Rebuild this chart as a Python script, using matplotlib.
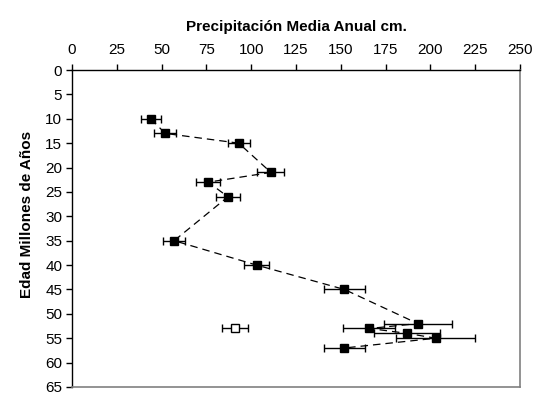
import numpy as np
import matplotlib.pyplot as plt

plt.rcParams['font.family'] = ['Liberation Sans', 'DejaVu Sans']

# precipitacion media anual (cm) vs edad (millones de anos)
precip = [44, 52, 93, 111, 76, 87, 57, 103, 152, 193, 166, 187, 203, 152]
edad = [10, 13, 15, 21, 23, 26, 35, 40, 45, 52, 53, 54, 55, 57]
error = [5.5, 6, 6.2, 7.5, 6.8, 6.8, 6.3, 7, 11.5, 19, 14.5, 18.6, 22, 11.3]

# punto aislado (cuadro abierto)
precip_abierto = [91]
edad_abierto = [53]
error_abierto = [7.4]

fig = plt.figure(figsize=(5.39, 3.97), dpi=100)
ax = fig.add_axes([72/539, 1 - 387/397, 448/539, 317/397])

ax.errorbar(precip, edad, xerr=error, fmt='none', ecolor='black',
            elinewidth=1, capsize=3, capthick=1)
ax.plot(precip, edad, color='black', linestyle=(0, (6, 4)), linewidth=0.9,
        marker='s', markersize=5.5, markerfacecolor='black', markeredgecolor='black')

ax.errorbar(precip_abierto, edad_abierto, xerr=error_abierto, fmt='s', color='black',
            markerfacecolor='white', markeredgecolor='black', markersize=5.5,
            elinewidth=1, capsize=3, capthick=1)

ax.set_xlim(0, 250)
ax.set_ylim(65, 0)
ax.set_xticks(np.arange(0, 251, 25))
ax.set_yticks(np.arange(0, 66, 5))

ax.xaxis.tick_top()
ax.xaxis.set_label_position('top')
ax.tick_params(axis='both', direction='out', length=4, width=1, labelsize=11, pad=3)
ax.tick_params(axis='x', pad=5)

ax.set_xlabel('Precipitación Media Anual cm.', fontsize=11, fontweight='bold', labelpad=9)
ax.set_ylabel('Edad Millones de Años', fontsize=11, fontweight='bold')
ax.yaxis.set_label_coords(-0.085, 0.543)

for s in ['top', 'left']:
    ax.spines[s].set_color('black')
    ax.spines[s].set_linewidth(1)
for s in ['right', 'bottom']:
    ax.spines[s].set_color('#808080')
    ax.spines[s].set_linewidth(1.2)

fig.savefig('out.png', dpi=100)
